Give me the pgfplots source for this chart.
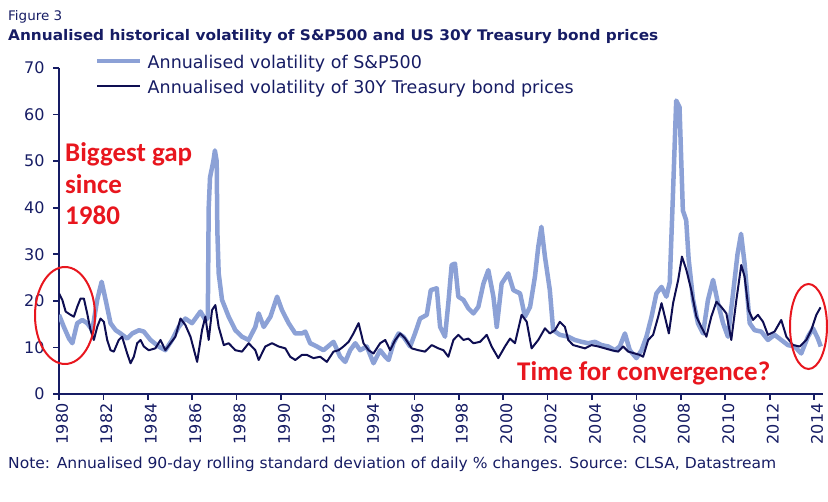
\documentclass[border=0pt]{standalone}
\usepackage{fontspec}
\setmainfont{DejaVu Sans}
\newfontfamily\carlito{Carlito}
\usepackage{pgfplots}
\pgfplotsset{compat=1.18}
\usepackage{graphicx}
\definecolor{navy}{RGB}{22,28,100}
\definecolor{lightser}{RGB}{140,161,214}
\definecolor{darkser}{RGB}{14,14,82}
\definecolor{annred}{RGB}{232,22,30}
\begin{document}
\begin{tikzpicture}[x=1pt,y=1pt]
\path[use as bounding box] (0,0) rectangle (828,502);
\node[anchor=base west, inner sep=0, text=navy] at (8,481.5) {\resizebox{54pt}{10pt}{Figure 3}};
\node[anchor=base west, inner sep=0, text=navy] at (8,461) {\resizebox{650pt}{11.1pt}{\bfseries Annualised historical volatility of S\&P500 and US 30Y Treasury bond prices}};
\begin{axis}[
  at={(59pt,108pt)}, anchor=south west, scale only axis,
  width=764pt, height=326pt,
  xmin=1980, xmax=2014.4, ymin=0, ymax=70,
  axis lines=left,
  axis line style={navy, line width=2.5pt, -},
  xtick={1980,1982,...,2014},
  ytick={0,10,...,70},
  tick align=outside,
  major tick length=6pt,
  tick style={navy, line width=1.6pt},
  /pgf/number format/assume math mode=true,
  /pgf/number format/1000 sep={},
  tick label style={font=\fontsize{16}{18}\selectfont, text=navy},
  x tick label style={rotate=90, anchor=east, yshift=-3pt},
  y tick label style={xshift=-5pt},
  legend style={at={(0.0471,1.040)}, anchor=north west, draw=none, fill=none,
    inner sep=0pt, row sep=10pt, column sep=5pt,
    font=\fontsize{17.5}{20}\selectfont, text=navy,
    nodes={inner sep=0pt}},
  legend cell align=left,
  legend image code/.code={\draw[#1] (0pt,1.5pt) -- (43pt,1.5pt);},
  line join=round,
]
\addplot[lightser, line width=4.5pt] coordinates {
(1980.00,17.0) (1980.22,14.4) (1980.45,11.9) (1980.60,10.9) (1980.82,15.2)
(1981.05,15.9) (1981.27,15.2) (1981.50,13.7) (1981.72,20.2) (1981.92,24.1)
(1982.10,20.2) (1982.32,15.2) (1982.55,13.7) (1982.77,13.0) (1983.07,11.9)
(1983.30,13.0) (1983.60,13.7) (1983.82,13.4) (1984.12,11.6) (1984.49,10.2)
(1984.79,9.4) (1985.09,11.6) (1985.39,14.4) (1985.69,16.2) (1985.99,15.2)
(1986.37,17.7) (1986.59,15.9) (1986.70,16.3) (1986.74,40.0) (1986.80,46.5)
(1986.95,50.0) (1987.02,52.3) (1987.10,50.0) (1987.13,35.0) (1987.19,25.9)
(1987.34,20.2) (1987.64,16.6) (1987.94,13.7) (1988.24,12.3) (1988.54,11.6)
(1988.84,14.4) (1988.99,17.3) (1989.22,14.4) (1989.52,16.6) (1989.82,20.9)
(1990.04,18.0) (1990.34,15.2) (1990.64,13.0) (1990.94,13.0) (1991.09,13.4)
(1991.31,10.9) (1991.61,10.2) (1991.91,9.4) (1992.36,11.2) (1992.66,8.0)
(1992.89,6.9) (1993.11,9.4) (1993.34,10.9) (1993.56,9.4) (1993.86,10.2)
(1994.16,6.6) (1994.46,9.4) (1994.69,8.0) (1994.84,7.3) (1995.06,10.9)
(1995.29,13.0) (1995.51,12.3) (1995.81,10.2) (1996.03,13.0) (1996.26,16.2)
(1996.56,17.0) (1996.74,22.3) (1997.01,22.7) (1997.16,14.4) (1997.38,12.3)
(1997.53,19.5) (1997.68,27.7) (1997.83,28.0) (1997.98,20.9) (1998.21,20.2)
(1998.43,18.4) (1998.66,17.3) (1998.88,18.7) (1999.11,23.7) (1999.33,26.6)
(1999.56,20.9) (1999.71,14.4) (1999.93,23.7) (2000.23,25.9) (2000.46,22.3)
(2000.76,21.6) (2000.98,16.6) (2001.21,18.7) (2001.43,25.2) (2001.58,31.6)
(2001.72,35.9) (2001.88,29.5) (2002.10,22.3) (2002.25,13.7) (2002.55,12.7)
(2002.93,12.3) (2003.23,11.6) (2003.53,11.2) (2003.83,10.9) (2004.13,11.2)
(2004.43,10.5) (2004.73,10.2) (2005.03,9.4) (2005.25,10.2) (2005.48,13.0)
(2005.70,9.4) (2006.00,7.7) (2006.23,9.4) (2006.45,12.3) (2006.68,16.6)
(2006.90,21.6) (2007.13,23.0) (2007.35,20.9) (2007.50,24.0) (2007.64,42.3)
(2007.79,63.0) (2007.94,61.6) (2008.09,39.4) (2008.24,37.3) (2008.35,29.0)
(2008.55,20.2) (2008.77,15.2) (2009.00,13.0) (2009.22,20.2) (2009.45,24.5)
(2009.67,19.5) (2009.90,15.2) (2010.12,12.3) (2010.35,21.6) (2010.55,30.0)
(2010.71,34.4) (2010.87,28.0) (2011.10,15.2) (2011.32,13.7) (2011.62,13.4)
(2011.92,11.6) (2012.22,12.7) (2012.52,11.6) (2012.82,10.5) (2013.12,10.2)
(2013.42,8.7) (2013.72,12.3) (2013.95,14.1) (2014.17,11.9) (2014.30,10.2)
};
\addlegendentry{Annualised volatility of S\&P500}
\addplot[darkser, line width=2pt] coordinates {
(1980.00,21.6) (1980.15,20.2) (1980.30,17.7) (1980.52,17.0) (1980.67,16.6)
(1980.82,18.7) (1980.97,20.5) (1981.12,20.5) (1981.27,17.3) (1981.42,13.7)
(1981.57,11.6) (1981.72,14.4) (1981.87,16.2) (1982.02,15.5) (1982.17,11.6)
(1982.32,9.4) (1982.47,9.1) (1982.69,11.6) (1982.84,12.3) (1983.07,8.7)
(1983.22,6.6) (1983.37,8.0) (1983.52,10.9) (1983.67,11.6) (1983.82,10.2)
(1984.04,9.4) (1984.34,9.8) (1984.57,11.6) (1984.79,9.4) (1985.02,10.9)
(1985.24,12.3) (1985.47,16.2) (1985.69,14.8) (1985.92,12.3) (1986.22,6.9)
(1986.44,13.7) (1986.59,16.6) (1986.74,11.6) (1986.89,18.0) (1987.04,19.1)
(1987.19,14.4) (1987.42,10.5) (1987.64,10.9) (1987.94,9.4) (1988.24,9.1)
(1988.54,10.9) (1988.84,9.4) (1988.99,7.3) (1989.29,10.2) (1989.59,10.9)
(1989.89,10.2) (1990.19,9.8) (1990.41,8.0) (1990.64,7.3) (1990.94,8.4)
(1991.16,8.4) (1991.46,7.7) (1991.76,8.0) (1992.06,6.9) (1992.36,9.1)
(1992.59,9.4) (1992.81,10.2) (1993.04,11.2) (1993.26,13.0) (1993.49,15.2)
(1993.71,10.9) (1993.94,9.4) (1994.16,8.7) (1994.46,10.9) (1994.69,11.6)
(1994.91,9.4) (1995.14,11.6) (1995.36,13.0) (1995.59,11.9) (1995.88,9.8)
(1996.18,9.4) (1996.48,9.1) (1996.78,10.5) (1997.08,9.8) (1997.31,9.4)
(1997.53,8.0) (1997.76,11.6) (1997.98,12.7) (1998.21,11.6) (1998.43,11.9)
(1998.66,10.9) (1998.96,11.2) (1999.26,12.7) (1999.48,10.2) (1999.78,7.7)
(2000.08,10.2) (2000.31,11.9) (2000.53,10.9) (2000.83,17.0) (2001.06,15.5)
(2001.28,9.8) (2001.58,11.6) (2001.88,14.1) (2002.10,13.0) (2002.33,13.7)
(2002.55,15.5) (2002.78,14.4) (2002.93,11.6) (2003.15,10.5) (2003.38,10.2)
(2003.68,9.8) (2003.98,10.5) (2004.28,10.2) (2004.58,9.8) (2004.88,9.4)
(2005.18,9.1) (2005.40,10.2) (2005.63,9.1) (2005.93,8.7) (2006.15,8.4)
(2006.30,8.0) (2006.53,11.6) (2006.75,12.7) (2006.98,16.6) (2007.13,19.5)
(2007.28,16.6) (2007.46,13.0) (2007.65,19.5) (2007.88,24.5) (2008.05,29.5)
(2008.25,26.6) (2008.47,22.3) (2008.70,16.6) (2008.92,14.4) (2009.15,12.3)
(2009.37,16.6) (2009.60,19.8) (2009.82,18.7) (2010.05,17.3) (2010.27,11.6)
(2010.50,20.2) (2010.72,27.7) (2010.87,25.2) (2011.05,18.0) (2011.25,15.9)
(2011.47,17.0) (2011.70,15.5) (2011.92,12.7) (2012.22,13.4) (2012.52,15.9)
(2012.75,12.3) (2013.05,10.5) (2013.35,10.2) (2013.65,11.6) (2013.87,13.7)
(2014.10,17.0) (2014.29,18.6)
};
\addlegendentry{Annualised volatility of 30Y Treasury bond prices}
\end{axis}
\draw[annred, line width=2pt] (65,186.5) ellipse [x radius=30, y radius=48.5];
\draw[annred, line width=2pt] (808.5,175.5) ellipse [x radius=18.5, y radius=42.5];
\node[anchor=base west, inner sep=0, text=annred, font=\carlito\bfseries\fontsize{27}{30}\selectfont] at (65,340.3) {Biggest gap};
\node[anchor=base west, inner sep=0, text=annred, font=\carlito\bfseries\fontsize{27}{30}\selectfont] at (65,308.6) {since};
\node[anchor=base west, inner sep=0, text=annred, font=\carlito\bfseries\fontsize{27}{30}\selectfont] at (65,277) {1980};
\node[anchor=base west, inner sep=0, text=annred, font=\carlito\bfseries\fontsize{27}{30}\selectfont] at (517,121.3) {Time for convergence?};
\node[anchor=base west, inner sep=0, text=navy] at (8,33) {\resizebox{768pt}{11.5pt}{Note: Annualised 90-day rolling standard deviation of daily \% changes. Source: CLSA, Datastream}};
\end{tikzpicture}
\end{document}
